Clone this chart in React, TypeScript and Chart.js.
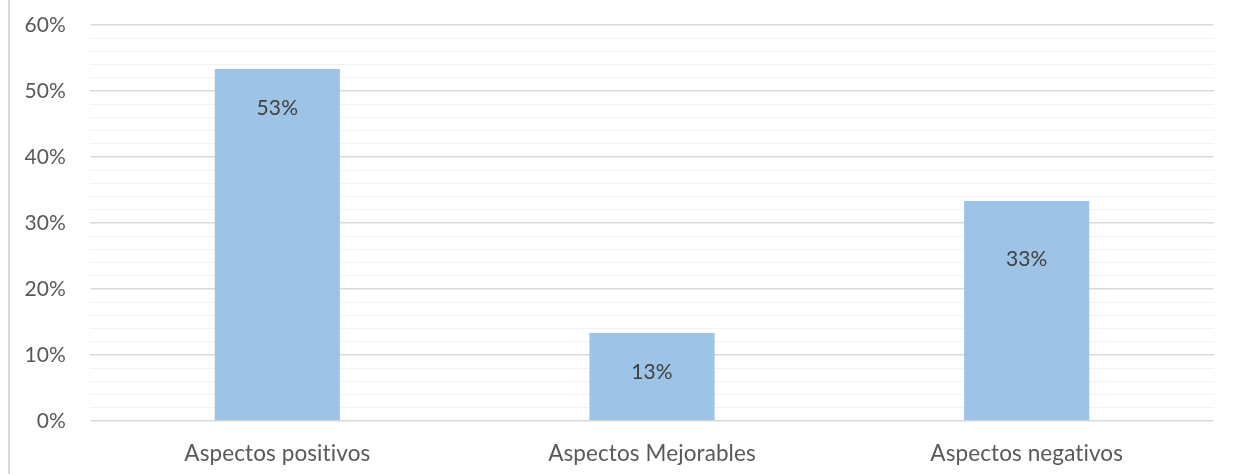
import React, { useEffect, useRef } from "react";
import { Chart, registerables } from "chart.js";

Chart.register(...registerables);

const categories = ["Aspectos positivos", "Aspectos Mejorables", "Aspectos negativos"];
const values = [0.5333, 0.1333, 0.3333];
const valueLabels = ["53%", "13%", "33%"];
const labelOffsets = [39, 39, 58];

const FONT = "Lato, 'Open Sans', sans-serif";
const TEXT = "#595959";

const noLigatures = {
  id: "noLigatures",
  beforeDraw(chart: any) {
    try {
      chart.ctx.letterSpacing = "0.1px";
    } catch (e) {}
  },
};

const labelPlugin = {
  id: "barLabels",
  afterDatasetsDraw(chart: any) {
    const ctx = chart.ctx;
    const meta = chart.getDatasetMeta(0);
    ctx.save();
    ctx.font = `21px ${FONT}`;
    ctx.fillStyle = "#404040";
    ctx.textAlign = "center";
    ctx.textBaseline = "middle";
    meta.data.forEach((bar: any, i: number) => {
      ctx.fillText(valueLabels[i], bar.x, bar.y + labelOffsets[i]);
    });
    ctx.restore();
  },
};

export default function App() {
  const ref = useRef<HTMLCanvasElement>(null);
  useEffect(() => {
    document.body.style.margin = "0";
    const chart = new Chart(ref.current!, {
      type: "bar",
      data: {
        labels: categories,
        datasets: [
          {
            data: values,
            backgroundColor: "#9DC3E6",
            barPercentage: 1,
            categoryPercentage: 0.334,
          },
        ],
      },
      options: {
        animation: false,
        responsive: false,
        maintainAspectRatio: false,
        layout: { padding: { top: 25, right: 19, left: 0, bottom: 0 } },
        plugins: { legend: { display: false }, tooltip: { enabled: false } },
        scales: {
          x: {
            grid: { display: false },
            border: { display: false },
            ticks: { color: TEXT, font: { family: FONT, size: 22.5 }, padding: 11 },
            afterFit(scale: any) {
              scale.height = 53;
              scale.paddingLeft = 0;
              scale.paddingRight = 0;
            },
          },
          y: {
            min: 0,
            max: 0.6,
            border: { display: false },
            grid: {
              drawTicks: false,
              color: (c: any) => {
                const v = Math.round((c.tick?.value ?? 0) * 100);
                return v % 10 === 0 ? "#D9D9D9" : "#F2F2F2";
              },
              lineWidth: (c: any) => {
                const v = Math.round((c.tick?.value ?? 0) * 100);
                return v % 10 === 0 ? 1.5 : 1;
              },
            },
            ticks: {
              stepSize: 0.02,
              autoSkip: false,
              color: TEXT,
              font: { family: FONT, size: 21 },
              padding: 24,
              callback: (v: any) => {
                const p = Math.round(Number(v) * 100);
                return p % 10 === 0 ? `${p}%` : "";
              },
            },
            afterFit(scale: any) {
              scale.width = 90;
              scale.paddingTop = 0;
              scale.paddingBottom = 0;
            },
          },
        },
      },
      plugins: [noLigatures, labelPlugin],
    });
    return () => chart.destroy();
  }, []);
  return (
    <div style={{ position: "relative", width: 1233, height: 474, background: "#fff" }}>
      <div style={{ position: "absolute", left: 8, top: 0, width: 0, height: 474, borderLeft: "2px solid #D9D9D9" }} />
      <canvas ref={ref} width={1233} height={474} style={{ position: "absolute", left: 0, top: 0 }} />
    </div>
  );
}
